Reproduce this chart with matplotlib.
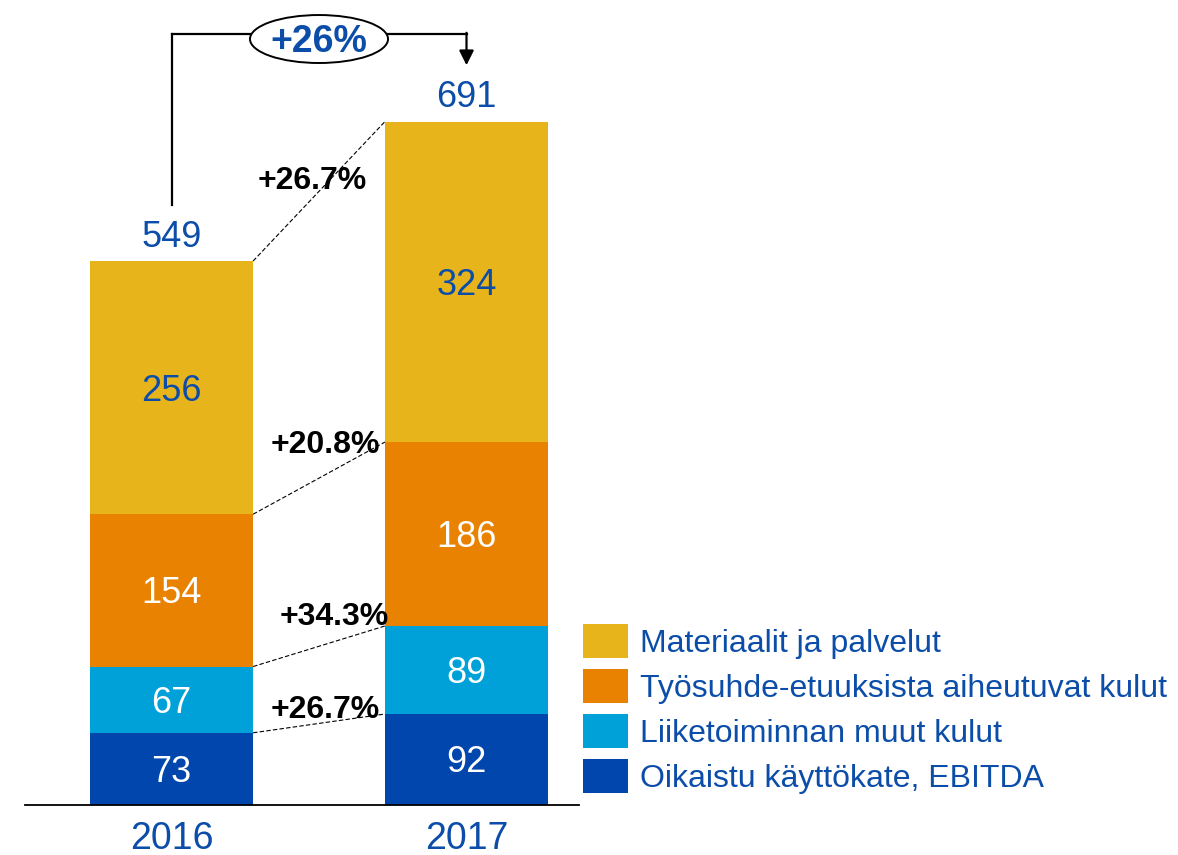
import matplotlib.pyplot as plt
from matplotlib.patches import Ellipse, Rectangle

plt.rcParams['font.family'] = ['Liberation Sans', 'DejaVu Sans']

# Data
years = ['2016', '2017']
series = ['Oikaistu käyttökate, EBITDA', 'Liiketoiminnan muut kulut',
          'Työsuhde-etuuksista aiheutuvat kulut', 'Materiaalit ja palvelut']
ebitda = [73, 92]
muut = [67, 89]
tyosuhde = [154, 186]
materiaalit = [256, 324]
totals = [549, 691]
growth = ['+26.7%', '+34.3%', '+20.8%', '+26.7%']  # bottom -> top
total_growth = '+26%'

colors = ['#0046AD', '#00A0D8', '#E88200', '#E8B41C']
label_colors = ['white', 'white', 'white', '#0B4DA8']
text_blue = '#0B4DA8'

fig = plt.figure(figsize=(11.78, 8.55), dpi=100)
ax = fig.add_axes([0, 0, 1, 1])
ax.set_xlim(-0.5814, 3.4119)
ax.set_ylim(-50.56, 813.95)
ax.axis('off')

dy = -3.5  # small nudge so text sits like the original
x = [0, 1]
w = 0.553
stack = [ebitda, muut, tyosuhde, materiaalit]
bottoms = [0, 0]
tops = []
for vals, col, lc in zip(stack, colors, label_colors):
    ax.bar(x, vals, width=w, bottom=bottoms, color=col, edgecolor='none')
    for i in range(2):
        ax.text(x[i], bottoms[i] + vals[i] / 2 + dy, str(vals[i]),
                ha='center', va='center', fontsize=26, color=lc)
    bottoms = [b + v for b, v in zip(bottoms, vals)]
    tops.append(list(bottoms))

# dashed connectors between the bars
for k in range(4):
    ax.plot([x[0] + w / 2, x[1] - w / 2], [tops[k][0], tops[k][1]],
            color='black', lw=0.8, ls=(0, (4, 2)))

# growth labels
pct_pos = [(0.52, 100), (0.55, 194), (0.52, 368), (0.476, 634)]
for (px, py), g in zip(pct_pos, growth):
    ax.text(px, py + dy, g, ha='center', va='center', fontsize=23,
            fontweight='bold', color='black')

# totals
for i in range(2):
    ax.text(x[i], totals[i] + 15, str(totals[i]), ha='center', va='baseline',
            fontsize=26, color=text_blue)

# year labels
for i in range(2):
    ax.text(x[i], -34, years[i], ha='center', va='center', fontsize=27,
            color=text_blue)

# baseline
ax.plot([-0.4966, 1.38], [0, 0], color='black', lw=1.3)

# bracket with total growth
by = 780
ax.plot([x[0], x[0]], [totals[0] + 58, by], color='black', lw=1.6)
ax.plot([x[0], 0.266], [by, by], color='black', lw=1.6)
ax.plot([0.734, x[1]], [by, by], color='black', lw=1.6)
ax.annotate('', xy=(x[1], totals[1] + 57), xytext=(x[1], by + 0.8),
            arrowprops=dict(arrowstyle='-|>', color='black', lw=1.6,
                            mutation_scale=22, shrinkA=0, shrinkB=0))
ax.add_patch(Ellipse((0.5, 774.5), 0.468, 48.5, facecolor='white',
                     edgecolor='black', lw=1.4))
ax.text(0.5, 774.5 + dy, total_growth, ha='center', va='center', fontsize=27,
        fontweight='bold', color=text_blue)

# legend
lg = fig.add_axes([0, 0, 1, 1])
lg.set_xlim(0, 1178)
lg.set_ylim(855, 0)
lg.axis('off')
row_y = [641, 686, 731, 776]
for yy, name, col in zip(row_y, series[::-1], colors[::-1]):
    lg.add_patch(Rectangle((583, yy - 17), 45, 34, facecolor=col,
                           edgecolor='none'))
    lg.text(640, yy + 3, name, ha='left', va='center', fontsize=23,
            color=text_blue)

fig.savefig('out.png', dpi=100)
